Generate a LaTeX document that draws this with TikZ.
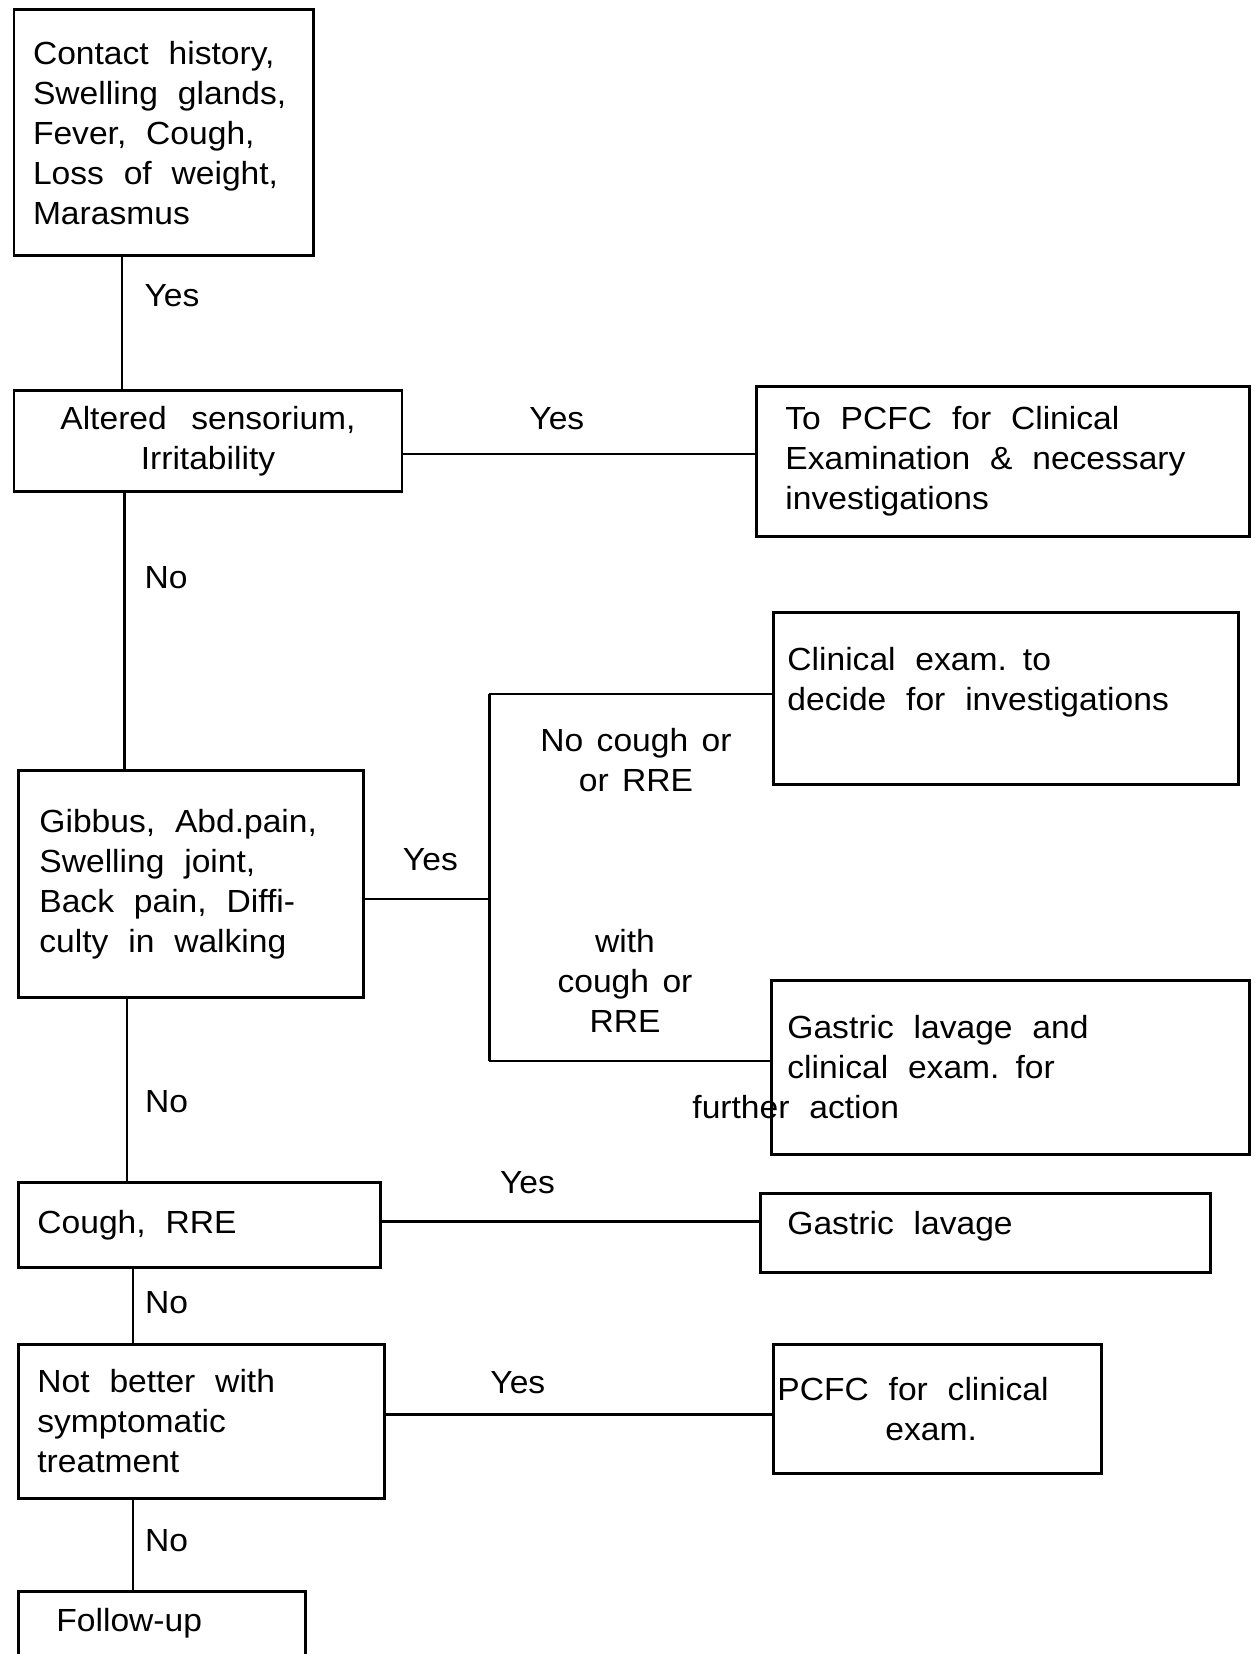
\documentclass[tikz,border=0pt]{standalone}
\usepackage{fontspec}
\setmainfont{Liberation Sans}[WordSpace=2.5, FakeStretch=1.05]
\newcommand\fsz{\fontsize{16}{20}\selectfont}
\begin{document}
\begin{tikzpicture}[x=1pt,y=-1pt,
  box/.style={draw, line width=1.4pt, anchor=north west, inner ysep=0pt, align=left, font=\fsz,
    execute at begin node={\spaceskip=0.62em plus 0.2em\relax}},
  conn/.style={line width=1.1pt},
  lbl/.style={inner sep=0pt, font=\fsz, align=center,
    execute at begin node={\spaceskip=0.42em\relax}}]
\useasboundingbox (0,0) rectangle (627,827);
% boxes
\node[box, inner xsep=9.5pt, text width=130.7pt, minimum height=122.8pt] (b1) at (6.3,4.2)
  {Contact history,\\Swelling glands,\\Fever, Cough,\\Loss of weight,\\Marasmus};
\node[box, inner xsep=0pt, text width=194pt, align=center, minimum height=50.5pt] (b2) at (6.3,194.5)
  {Altered sensorium,\\Irritability};
\node[box, inner xsep=14.5pt, text width=217.5pt, minimum height=75pt] (b3) at (377.5,192.5)
  {To PCFC for Clinical\\Examination \& necessary\\investigations};
\node[box, inner xsep=10.5pt, text width=151.5pt, minimum height=113.5pt] (b4) at (8.5,384.5)
  {Gibbus, Abd.pain,\\Swelling joint,\\Back pain, Diffi-\\culty in walking};
\node[box, inner xsep=7pt, text width=218.5pt, minimum height=86pt] (b5) at (386,305.5)
  {Clinical exam. to\\decide for investigations\\\mbox{}};
\node[box, inner xsep=8pt, text width=223pt, minimum height=87pt] (b6) at (385,489.5)
  {Gastric lavage and\\clinical exam. for\\\hspace*{-47.5pt}further action};
\node[box, inner xsep=9.5pt, text width=162pt, minimum height=42.5pt] (b7) at (8.5,590.5)
  {Cough, RRE};
\node[box, inner xsep=13.5pt, text width=198pt, minimum height=39.5pt, text depth=10pt] (b8) at (379.5,596)
  {Gastric lavage};
\node[box, inner xsep=9.5pt, text width=164pt, minimum height=77pt] (b9) at (8.5,671.5)
  {Not better with\\symptomatic\\treatment};
\node[box, inner xsep=2pt, text width=160pt, minimum height=64.5pt] (b10) at (386,671.5)
  {PCFC for clinical\\\hspace*{54pt}exam.};
\node[box, inner xsep=19pt, text width=105.5pt, minimum height=40pt, text depth=12pt] (b11) at (8.5,795)
  {Follow-up};
% connector helper coordinates
\coordinate (v1) at (61,0);
\coordinate (v2) at (62.2,0);
\coordinate (v3) at (63.3,0);
\coordinate (v4) at (66.4,0);
\coordinate (h1) at (0,226.8);
\coordinate (h5) at (0,610.7);
\coordinate (h6) at (0,707.2);
\coordinate (jx) at (244.7,449.3);
\coordinate (jt) at (244.7,347);
\coordinate (jb) at (244.7,530.5);
% connectors
\draw[conn] (b1.south -| v1) -- (b2.north -| v1);
\draw[conn] (b2.south -| v2) -- (b4.north -| v2);
\draw[conn] (b4.south -| v3) -- (b7.north -| v3);
\draw[conn] (b7.south -| v4) -- (b9.north -| v4);
\draw[conn] (b9.south -| v4) -- (b11.north -| v4);
\draw[conn] (b2.east |- h1) -- (b3.west |- h1);
\draw[conn] (b4.east |- jx) -- (jx);
\draw[conn] (jt) -- (jb);
\draw[conn] (jt) -- (b5.west |- jt);
\draw[conn] (jb) -- (b6.west |- jb);
\draw[conn] (b7.east |- h5) -- (b8.west |- h5);
\draw[conn] (b9.east |- h6) -- (b10.west |- h6);
% labels
\node[lbl] (l1) at (86,148) {Yes};
\node[lbl] (l2) at (278.4,209.4) {Yes};
\node[lbl] (l3) at (83,289) {No};
\node[lbl] (l4) at (215.2,429.8) {Yes};
\node[lbl] (l5) at (318,380) {No cough or\\or RRE};
\node[lbl] (l6) at (312.5,490.5) {with\\cough or\\RRE};
\node[lbl] (l7) at (83.3,551) {No};
\node[lbl] (l8) at (263.7,591.2) {Yes};
\node[lbl] (l9) at (83.3,651.3) {No};
\node[lbl] (l10) at (258.9,691.4) {Yes};
\node[lbl] (l11) at (83.3,770.5) {No};
\end{tikzpicture}
\end{document}
